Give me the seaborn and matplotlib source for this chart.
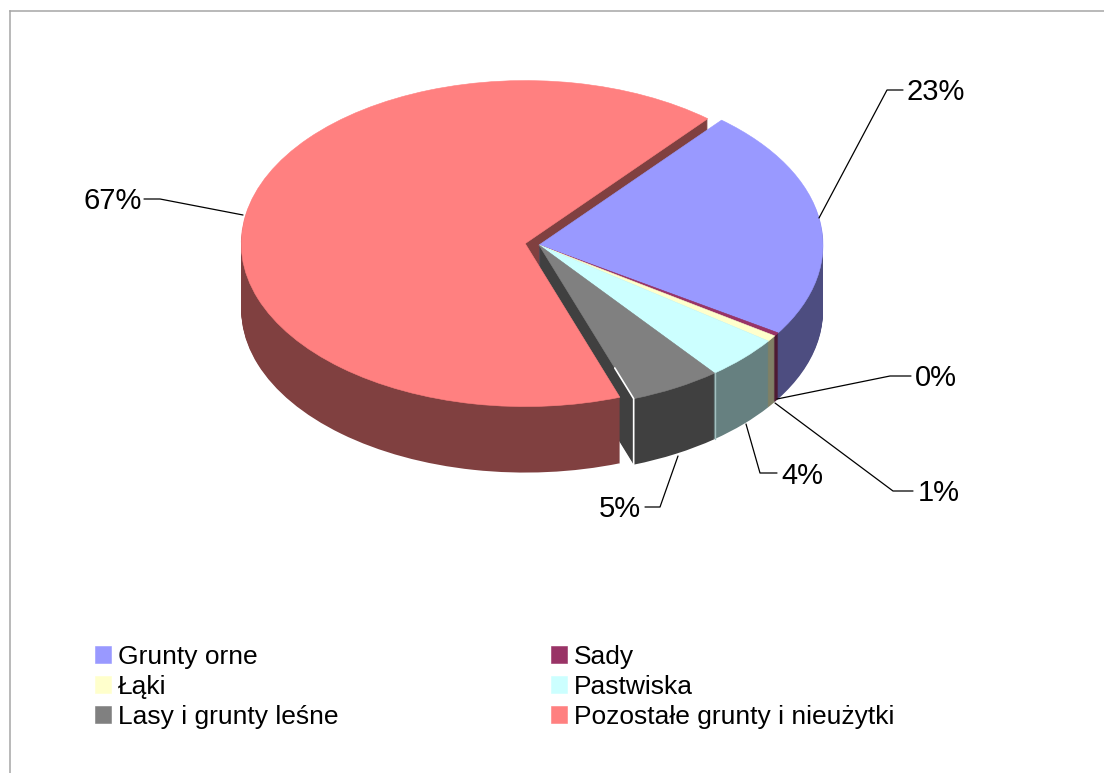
import numpy as np
import matplotlib
matplotlib.use("Agg")
import matplotlib.pyplot as plt
import seaborn as sns

categories = ["Grunty orne", "Sady", "Łąki", "Pastwiska", "Lasy i grunty leśne", "Pozostałe grunty i nieużytki"]
shares = [22.95, 0.35, 0.62, 4.36, 5.2, 66.52]
slice_colors = ["#9999FF", "#993366", "#FFFFCC", "#CCFFFF", "#808080", "#FF8080"]

sns.set_theme(style="white")
plt.rcParams["font.family"] = ["Liberation Sans", "DejaVu Sans"]

W, H = 1104, 773
R = 284
SQUASH = 163 / R   # flattening of the pie
DEPTH = 66
START = 50


def px(x, y):
    # picture pixels to data coords
    return x, (H - y) / SQUASH


fig = plt.figure(figsize=(W / 100, H / 100), dpi=100, facecolor="white")
ax = fig.add_axes([10 / W, 0, (W - 10) / W, (H - 11) / H])

walls = [tuple(np.array(matplotlib.colors.to_rgb(c)) * 0.5) for c in slice_colors]
explode = [0, 0, 0, 0, 0, 14]   # pie takes this in data units
center = px(539, 245)
pie_args = dict(explode=explode, radius=R, startangle=START, counterclock=False, frame=True)

# stack of dark discs gives the side wall, bottom one first
for d in range(DEPTH, 0, -1):
    ax.pie(shares, colors=walls, center=(center[0], center[1] - d / SQUASH),
           wedgeprops=dict(linewidth=0), **pie_args)

wedges, _ = ax.pie(shares, colors=slice_colors, center=center, wedgeprops=dict(linewidth=0), **pie_args)
for w, c in zip(wedges, slice_colors):
    w.set_edgecolor(c)
    w.set_linewidth(0.4)

# light edges on the grey and the cyan slices
ends = START - np.cumsum(shares) * 3.6
a = np.radians(ends[4])
rim = (center[0] + R * np.cos(a), center[1] + R * np.sin(a))
low = rim[1] - DEPTH / SQUASH
ax.plot([center[0] + 0.8 * R * np.cos(a), rim[0], rim[0]],
        [center[1] + 0.8 * R * np.sin(a), rim[1], low], color="white", lw=1.2, zorder=5)
a = np.radians(ends[3])
rim = (center[0] + R * np.cos(a), center[1] + R * np.sin(a))
ax.plot([rim[0], rim[0]], [rim[1], rim[1] - DEPTH / SQUASH], color="#A3BFBF", lw=1, zorder=5)

# percent labels with their leader lines
leaders = [
    [(819, 218), (887, 90), (903, 90)],
    [(777, 399), (890, 376), (911, 376)],
    [(775, 403), (893, 491), (913, 491)],
    [(746, 424), (760, 473), (777, 473)],
    [(678, 456), (660, 507), (645, 507)],
    [(243, 215), (160, 199), (144, 199)],
]
label_pos = [(907, 89, "left"), (915, 375, "left"), (918, 490, "left"),
             (781, 473, "left"), (641, 506, "right"), (142, 198, "right")]

for pts, (lx, ly, ha), v in zip(leaders, label_pos, shares):
    xy = [px(*p) for p in pts]
    ax.plot([p[0] for p in xy], [p[1] for p in xy], color="black", lw=0.9, zorder=6)
    tx, ty = px(lx, ly)
    ax.text(tx, ty, f"{v:.0f}%", fontsize=21, color="black", ha=ha, va="center_baseline", zorder=7)

# legend is filled by column, the chart reads it by row
order = [0, 2, 4, 1, 3, 5]
ax.legend([wedges[i] for i in order], [categories[i] for i in order],
          ncols=2, frameon=False, fontsize=19, loc="upper left",
          bbox_to_anchor=px(95, 645), bbox_transform=ax.transData,
          borderpad=0, borderaxespad=0, handlelength=0.6, handleheight=0.6,
          handletextpad=0.27, labelspacing=0.22, columnspacing=8.05, labelcolor="black")

ax.set_aspect("auto")
ax.set_xlim(10, W)
ax.set_ylim(0, (H - 11) / SQUASH)
ax.set_xticks([])
ax.set_yticks([])
for side in ["right", "bottom"]:
    ax.spines[side].set_visible(False)
for side in ["left", "top"]:
    ax.spines[side].set_visible(True)
    ax.spines[side].set_color("#A6A6A6")
    ax.spines[side].set_linewidth(1.1)

fig.savefig("out.png", dpi=100)
